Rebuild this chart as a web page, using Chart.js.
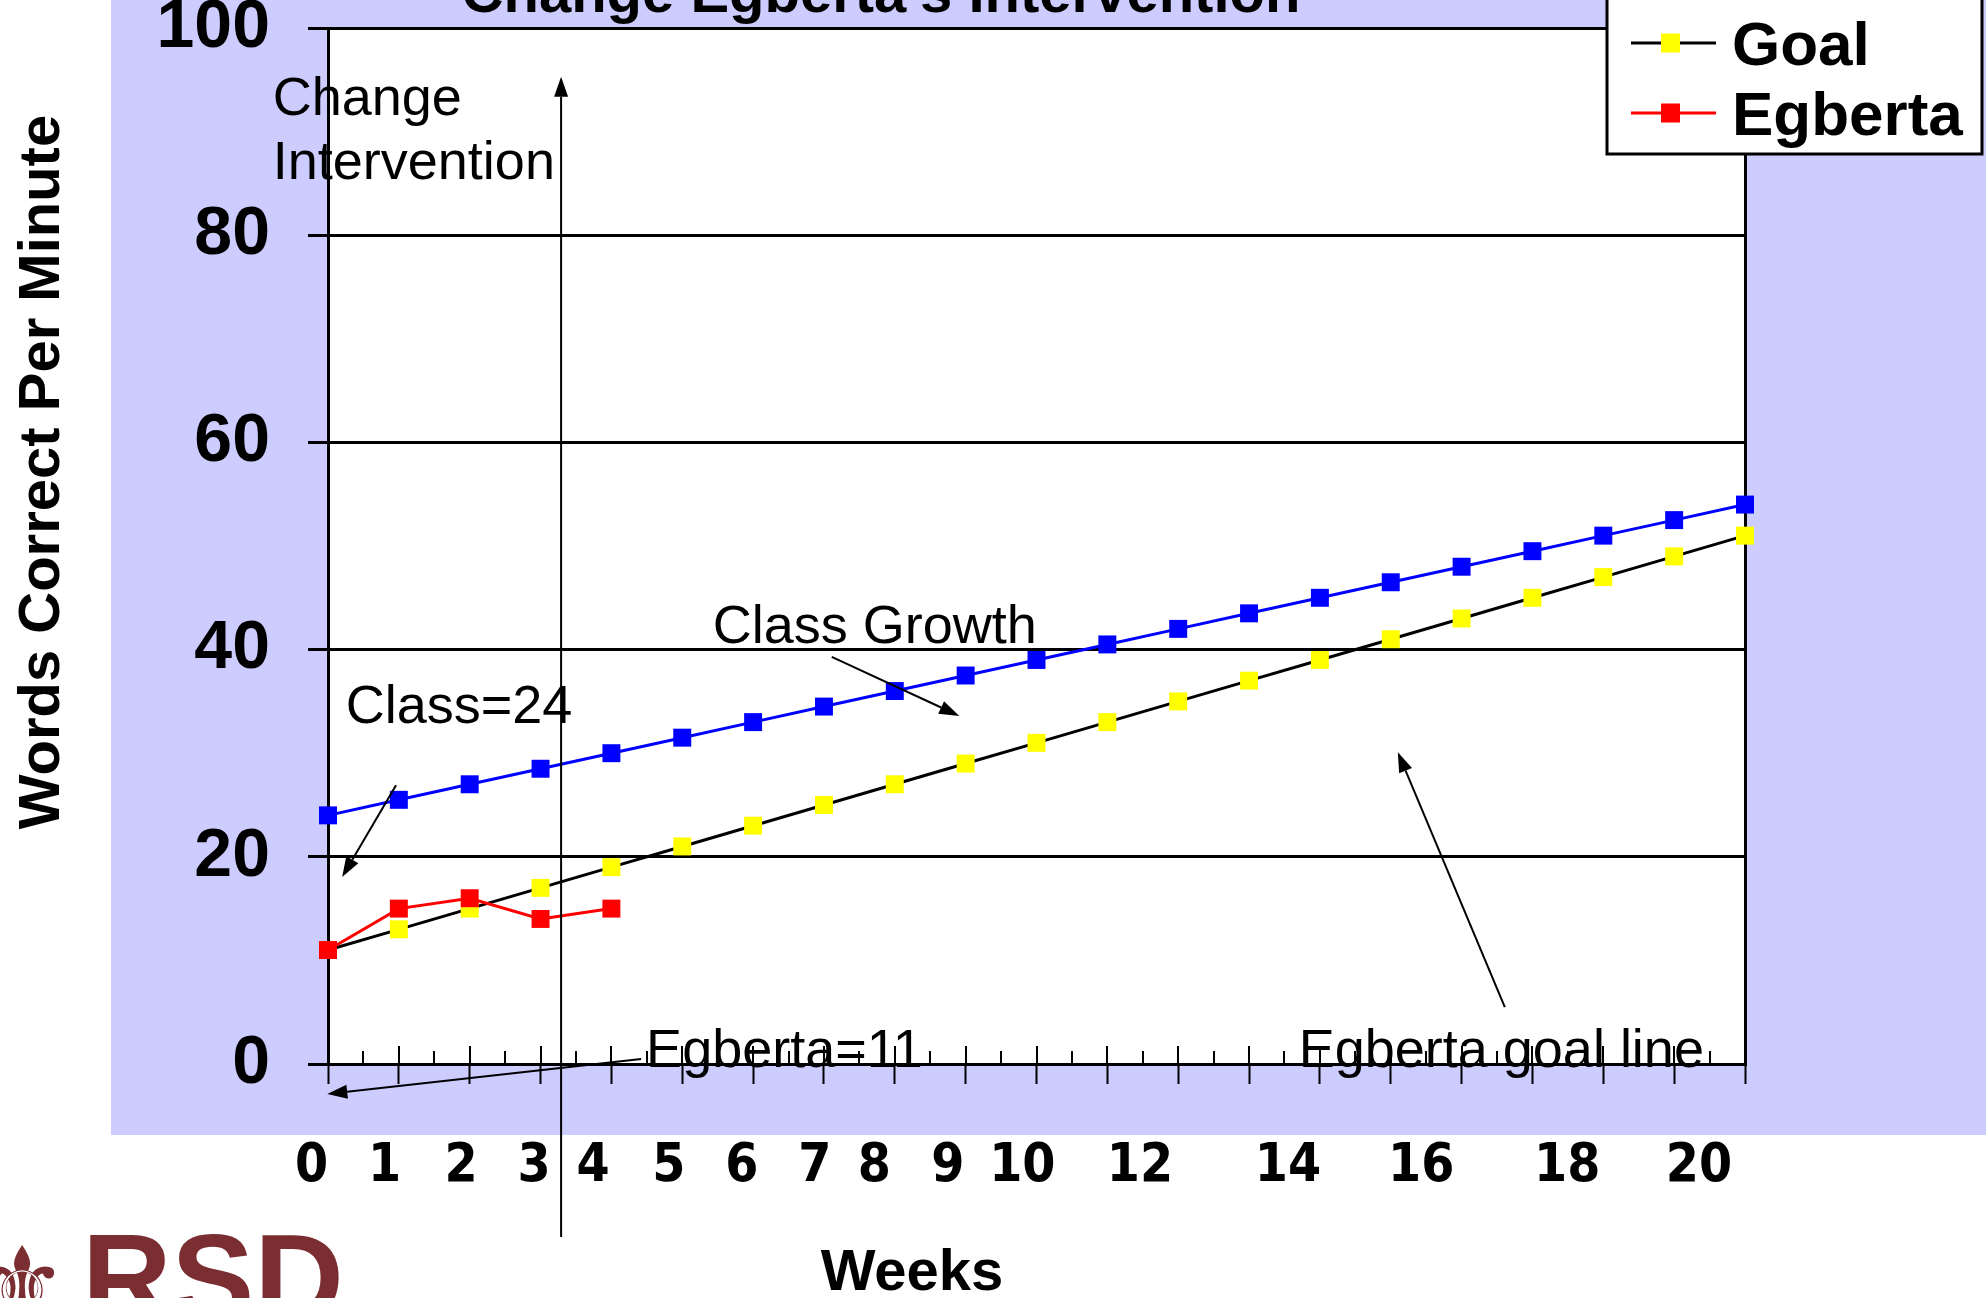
<!DOCTYPE html>
<html>
<head>
<meta charset="utf-8">
<title>Change Egberta's Intervention</title>
<script src="https://cdn.jsdelivr.net/npm/chart.js@4/dist/chart.umd.min.js"></script>
<style>
  html, body { margin: 0; padding: 0; background: #ffffff; overflow: hidden; }
  canvas { display: block; }
</style>
</head>
<body>
<canvas id="chart" width="1986" height="1298"></canvas>
<script>
// ---- data -------------------------------------------------------------
const weeks = [0, 1, 2, 3, 4, 5, 6, 7, 8, 9, 10, 11, 12, 13, 14, 15, 16, 17, 18, 19, 20];
const classWCPM = [24, 25.5, 27, 28.5, 30, 31.5, 33, 34.5, 36, 37.5, 39, 40.5, 42, 43.5, 45, 46.5, 48, 49.5, 51, 52.5, 54];
const goalWCPM = [11, 13, 15, 17, 19, 21, 23, 25, 27, 29, 31, 33, 35, 37, 39, 41, 43, 45, 47, 49, 51];
const egbertaWCPM = [11, 15, 16, 14, 15];
const weekTickLabels = ['0', '1', '2', '3', '4', '5', '6', '7', '8', '9', '10', '12', '14', '16', '18', '20'];
const wcpmTicks = [0, 20, 40, 60, 80, 100];

const titleText = "Change Egberta's Intervention";
const yTitleText = 'Words Correct Per Minute';
const xTitleText = 'Weeks';

// ---- layout -----------------------------------------------------------
const SANS = "'Liberation Sans', Arial, Helvetica, sans-serif";
const NARROW = "'Liberation Sans Narrow', 'Arial Narrow', 'DejaVu Sans Condensed', sans-serif";
const LAVENDER = '#ccccff';

// where each week label sits along the week scale (hand-set text positions)
const weekLabelSlots = [-0.23, 0.80, 1.88, 2.91, 3.74, 4.81, 5.84, 6.87, 7.71, 8.75, 9.80, 11.46, 13.55, 15.43, 17.49, 19.35];

// callout texts and arrows, placed in (week, wcpm) units
const notes = [
  { text: 'Change', x: -0.78, y: 91.6 },
  { text: 'Intervention', x: -0.78, y: 85.4 },
  { text: 'Class=24', x: 0.25, y: 32.9 },
  { text: 'Class Growth', x: 5.43, y: 40.6 },
  { text: 'Egberta=11', x: 4.49, y: -0.3 },
  { text: 'Egberta goal line', x: 13.7, y: -0.3 }
];
const pointers = [
  { from: [0.96, 26.9], to: [0.20, 18.05], w: 2 },
  { from: [7.11, 39.3], to: [8.91, 33.6], w: 2 },
  { from: [4.42, 0.48], to: [-0.01, -2.9], w: 2 },
  { from: [16.61, 5.5], to: [15.1, 30.1], w: 2 },
  { from: [3.29, -16.7], to: [3.29, 95.3], w: 2 }
];

function series(values) {
  return values.map((v, i) => ({ x: weeks[i], y: v }));
}

function arrow(ctx, x1, y1, x2, y2, w) {
  const a = Math.atan2(y2 - y1, x2 - x1);
  const len = 20, half = 7;
  const bx = x2 - len * Math.cos(a), by = y2 - len * Math.sin(a);
  ctx.save();
  ctx.strokeStyle = '#000';
  ctx.fillStyle = '#000';
  ctx.lineWidth = w;
  ctx.beginPath();
  ctx.moveTo(x1, y1);
  ctx.lineTo(bx, by);
  ctx.stroke();
  ctx.beginPath();
  ctx.moveTo(x2, y2);
  ctx.lineTo(bx + half * Math.sin(a), by - half * Math.cos(a));
  ctx.lineTo(bx - half * Math.sin(a), by + half * Math.cos(a));
  ctx.closePath();
  ctx.fill();
  ctx.restore();
}

const slidePlugin = {
  id: 'slide',
  beforeDraw(chart) {
    const { ctx, chartArea } = chart;
    ctx.save();
    ctx.fillStyle = LAVENDER;
    ctx.fillRect(111, 0, chart.width - 111, 1135);
    ctx.fillStyle = '#ffffff';
    ctx.fillRect(chartArea.left, chartArea.top, chartArea.right - chartArea.left, chartArea.bottom - chartArea.top);
    ctx.restore();
  },
  beforeDatasetsDraw(chart) {
    // inner tick marks on the week axis: whole weeks and half weeks
    const { ctx, chartArea } = chart;
    const xs = chart.scales.x;
    ctx.save();
    ctx.strokeStyle = '#000';
    ctx.lineWidth = 2;
    ctx.beginPath();
    for (let v = xs.min + 0.5; v <= xs.max; v += 0.5) {
      const px = Math.round(xs.getPixelForValue(v));
      const len = Number.isInteger(v) ? 18 : 13;
      ctx.moveTo(px, chartArea.bottom);
      ctx.lineTo(px, chartArea.bottom - len);
    }
    ctx.stroke();
    ctx.restore();
  },
  afterDraw(chart) {
    const { ctx } = chart;
    const X = v => chart.scales.x.getPixelForValue(v);
    const Y = v => chart.scales.y.getPixelForValue(v);
    ctx.save();

    // callouts
    ctx.fillStyle = '#000';
    ctx.font = `54px ${SANS}`;
    ctx.textAlign = 'left';
    ctx.textBaseline = 'alphabetic';
    notes.forEach(n => ctx.fillText(n.text, X(n.x), Y(n.y)));
    pointers.forEach(p => arrow(ctx, X(p.from[0]), Y(p.from[1]), X(p.to[0]), Y(p.to[1]), p.w));

    // chart title (runs off the top edge)
    ctx.font = `bold 58px ${SANS}`;
    ctx.textAlign = 'center';
    ctx.fillText(titleText, 881, 12);

    // axis titles
    ctx.fillText(xTitleText, 912, 1290);
    ctx.save();
    ctx.translate(59, 472);
    ctx.rotate(-Math.PI / 2);
    ctx.font = `bold 58px ${SANS}`;
    ctx.fillText(yTitleText, 0, 0);
    ctx.restore();

    // legend box
    ctx.fillStyle = '#ffffff';
    ctx.fillRect(1607, -10, 375, 164);
    ctx.strokeStyle = '#000';
    ctx.lineWidth = 3;
    ctx.strokeRect(1607, -10, 375, 164);
    const entries = chart.data.datasets.filter(d => d.inLegend);
    const order = ['Goal', 'Egberta'];
    entries.sort((a, b) => order.indexOf(a.label) - order.indexOf(b.label));
    entries.forEach((d, i) => {
      const cy = 43 + i * 70;
      ctx.strokeStyle = d.borderColor;
      ctx.lineWidth = 3;
      ctx.beginPath();
      ctx.moveTo(1631, cy);
      ctx.lineTo(1716, cy);
      ctx.stroke();
      ctx.fillStyle = d.pointBackgroundColor;
      ctx.fillRect(1661, cy - 9.5, 19, 19);
      ctx.fillStyle = '#000';
      ctx.font = `bold 62px ${SANS}`;
      ctx.textAlign = 'left';
      ctx.fillText(d.label, 1732, cy + 22);
    });

    // district logo, bottom left
    ctx.fillStyle = '#7b2e32';
    ctx.font = `100px 'DejaVu Sans', sans-serif`;
    ctx.textAlign = 'center';
    ctx.fillText('\u269C', 22, 1318);
    ctx.font = `bold 124px ${SANS}`;
    ctx.textAlign = 'left';
    ctx.fillText('RSD', 82, 1321);

    ctx.restore();
  }
};

new Chart(document.getElementById('chart'), {
  type: 'line',
  data: {
    datasets: [
      {
        label: 'Egberta', inLegend: true, order: 0,
        data: series(egbertaWCPM),
        borderColor: '#ff0000', backgroundColor: '#ff0000',
        pointBackgroundColor: '#ff0000', pointBorderColor: '#ff0000'
      },
      {
        label: 'Goal', inLegend: true, order: 1,
        data: series(goalWCPM),
        borderColor: '#000000', backgroundColor: '#ffff00',
        pointBackgroundColor: '#ffff00', pointBorderColor: '#ffff00'
      },
      {
        label: 'Class', inLegend: false, order: 2,
        data: series(classWCPM),
        borderColor: '#0000ff', backgroundColor: '#0000ff',
        pointBackgroundColor: '#0000ff', pointBorderColor: '#0000ff'
      }
    ]
  },
  options: {
    responsive: false,
    animation: false,
    events: [],
    clip: false,
    datasets: {
      line: {
        borderWidth: 3,
        tension: 0,
        pointStyle: 'rect',
        pointRadius: 12.7,
        pointBorderWidth: 0,
        clip: false
      }
    },
    layout: { padding: { left: 0, top: 28, right: 241, bottom: 0 } },
    plugins: { legend: { display: false }, tooltip: { enabled: false } },
    scales: {
      x: {
        type: 'linear', position: 'bottom', weight: 0,
        min: 0, max: 20,
        ticks: { display: false, stepSize: 1 },
        grid: {
          drawOnChartArea: true,
          color: c => (c.tick && c.tick.value === 20 ? '#000000' : 'rgba(0,0,0,0)'),
          lineWidth: 3,
          tickColor: '#000000', tickWidth: 2, tickLength: 20
        },
        border: { display: true, color: '#000000', width: 3 },
        afterFit: s => { s.height = 20; s.paddingLeft = 0; s.paddingRight = 0; }
      },
      xl: {
        type: 'linear', position: 'bottom', weight: 1,
        min: 0, max: 20,
        afterBuildTicks: s => { s.ticks = weekLabelSlots.map(v => ({ value: v })); },
        ticks: {
          callback: (v, i) => weekTickLabels[i],
          autoSkip: false, maxRotation: 0, minRotation: 0,
          color: '#000000', padding: 51,
          font: { family: NARROW, weight: 'bold', size: 53 }
        },
        grid: { display: false, drawTicks: false },
        border: { display: false },
        afterFit: s => { s.height = 214; s.paddingLeft = 0; s.paddingRight = 0; }
      },
      y: {
        min: 0, max: 100,
        afterBuildTicks: s => { s.ticks = wcpmTicks.map(v => ({ value: v })); },
        ticks: {
          color: '#000000', padding: 38,
          font: { family: SANS, weight: 'bold', size: 68 }
        },
        grid: { color: '#000000', lineWidth: 3, tickColor: '#000000', tickWidth: 3, tickLength: 20 },
        border: { color: '#000000', width: 3 },
        afterFit: s => { s.width = 328; s.paddingTop = 0; s.paddingBottom = 0; }
      }
    }
  },
  plugins: [slidePlugin]
});
</script>
</body>
</html>
